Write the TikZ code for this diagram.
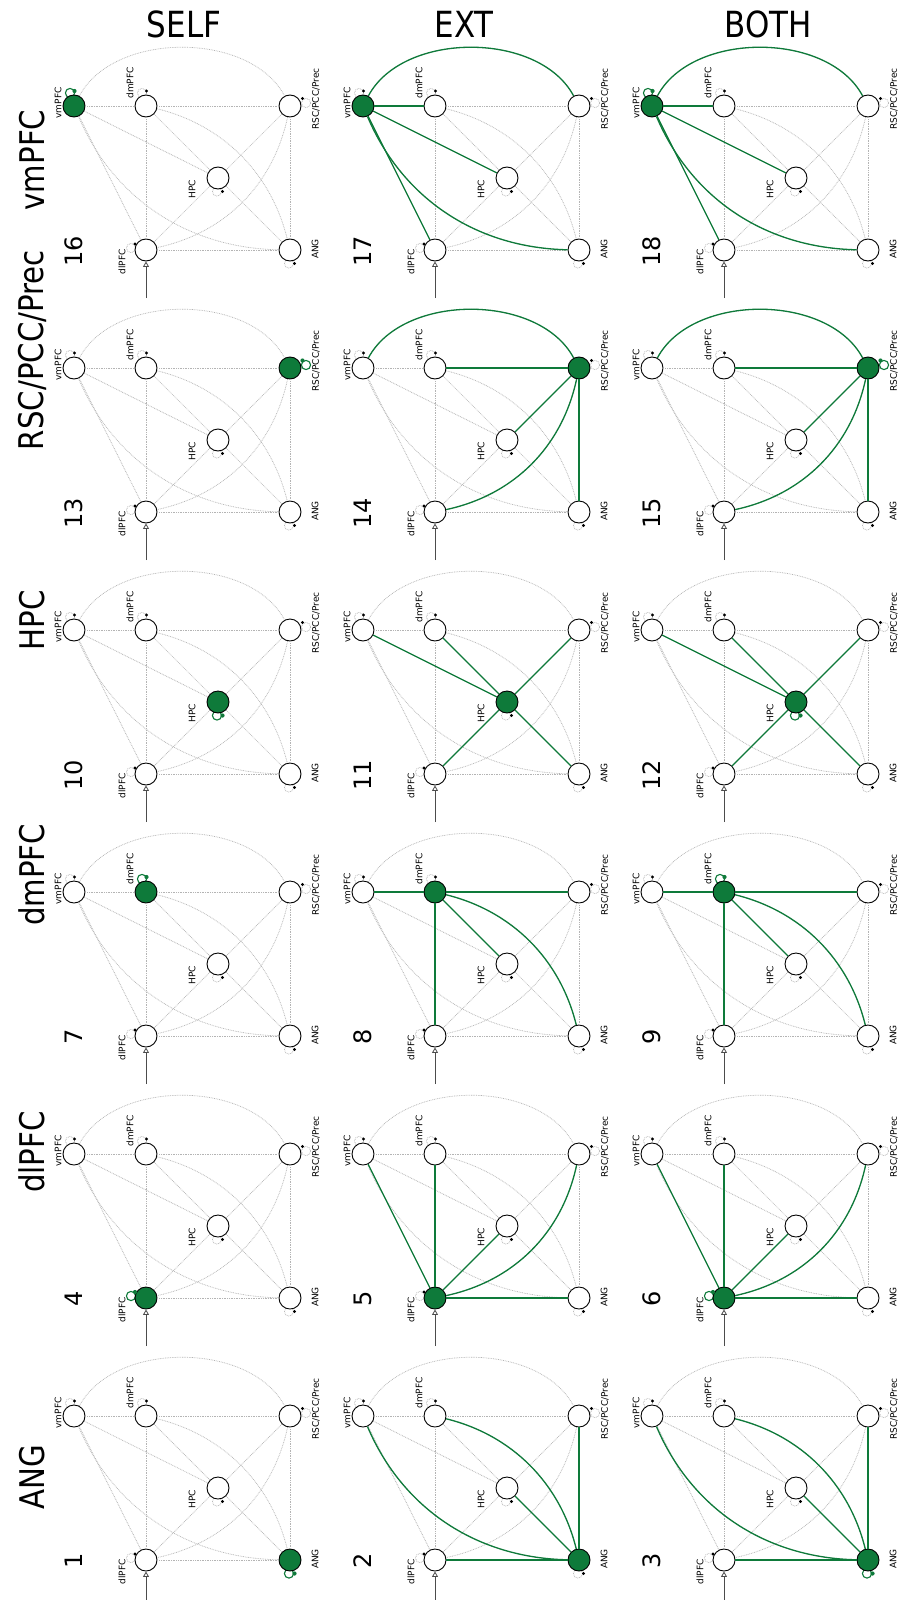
\documentclass[tikz,border=0pt]{standalone}
\usepackage{fontspec}
\setmainfont{DejaVu Sans}
\newfontfamily\condfont[FakeStretch=0.86]{DejaVu Sans}
\usetikzlibrary{arrows.meta}
\definecolor{grn}{RGB}{14,122,58}
\definecolor{eg}{RGB}{180,180,180}
\newcommand\pp{}
\newcommand\eVD[1]{\draw[#1] (\pp V) -- (\pp D);}
\newcommand\eVR[1]{\draw[#1] (\pp V) .. controls +(40,-75) and +(-40,-75) .. (\pp R);}
\newcommand\eVH[1]{\draw[#1] (\pp V) -- (\pp H);}
\newcommand\eVL[1]{\draw[#1] (\pp V) -- (\pp L);}
\newcommand\eVA[1]{\draw[#1] (\pp V) .. controls +(40,94) and +(-101,-2) .. (\pp A);}
\newcommand\eDR[1]{\draw[#1] (\pp D) -- (\pp R);}
\newcommand\eDH[1]{\draw[#1] (\pp D) -- (\pp H);}
\newcommand\eDL[1]{\draw[#1] (\pp D) -- (\pp L);}
\newcommand\eDA[1]{\draw[#1] (\pp D) .. controls +(77,19) and +(-19,-77) .. (\pp A);}
\newcommand\eRH[1]{\draw[#1] (\pp R) -- (\pp H);}
\newcommand\eRL[1]{\draw[#1] (\pp R) .. controls +(-17,79) and +(79,-17) .. (\pp L);}
\newcommand\eRA[1]{\draw[#1] (\pp R) -- (\pp A);}
\newcommand\eHL[1]{\draw[#1] (\pp H) -- (\pp L);}
\newcommand\eHA[1]{\draw[#1] (\pp H) -- (\pp A);}
\newcommand\eLA[1]{\draw[#1] (\pp L) -- (\pp A);}
\newcommand\allV[1]{\eVD{#1}\eVR{#1}\eVH{#1}\eVL{#1}\eVA{#1}}
\newcommand\allD[1]{\eVD{#1}\eDR{#1}\eDH{#1}\eDL{#1}\eDA{#1}}
\newcommand\allR[1]{\eVR{#1}\eDR{#1}\eRH{#1}\eRL{#1}\eRA{#1}}
\newcommand\allH[1]{\eVH{#1}\eDH{#1}\eRH{#1}\eHL{#1}\eHA{#1}}
\newcommand\allL[1]{\eVL{#1}\eDL{#1}\eRL{#1}\eHL{#1}\eLA{#1}}
\newcommand\allA[1]{\eVA{#1}\eDA{#1}\eRA{#1}\eHA{#1}\eLA{#1}}
\newcommand\nodelist{V/0/0/-4/-13/0.5/-15, D/72/0/68/-13/72.5/-15, R/216/0/232/-3/228.5/-7.5, H/144/72/143/85.5/148.5/85.5, L/72/144/57/142/61/138, A/216/144/215/157.5/220.5/157.5}
\begin{document}
\begin{tikzpicture}[x=1pt,y=-1pt,
  nd/.style={circle,draw=black,line width=0.9pt,fill=white,minimum size=22pt,inner sep=0pt},
  ndon/.style={nd,fill=grn},
  ge/.style={draw=eg,line width=0.7pt,dash pattern=on 0.8pt off 0.9pt},
  ae/.style={draw=grn,line width=1.3pt},
  lp/.style={draw=eg,line width=0.7pt,dash pattern=on 0.8pt off 0.9pt},
  lpon/.style={draw=grn,line width=1.1pt},
  lbl/.style={rotate=90,font=\fontsize{9}{9}\selectfont,inner sep=0pt},
  numst/.style={rotate=90,font=\fontsize{24}{24}\selectfont,inner sep=0pt},
  rowt/.style={rotate=90,font=\condfont\fontsize{34}{34}\selectfont,inner sep=0pt},
  colt/.style={font=\condfont\fontsize{36}{36}\selectfont,inner sep=0pt},
  inar/.style={draw=black!70,line width=1pt,-{Triangle[open,length=5.5pt,width=6pt,line width=0.8pt]}}
]
\useasboundingbox (0,0) rectangle (909,1600);
\fill[white] (0,0) rectangle (909,1600);
\foreach \r in {0,...,5}{
 \foreach \c in {0,1,2}{
  \pgfmathtruncatemacro\n{3*\r+\c+1}
  \edef\act{\ifcase\r A\or L\or D\or H\or R\or V\fi}
  \edef\pp{p\n-}
  \begin{scope}[shift={({74+289*\c},{1416-262*\r})}]
   % loops
   \foreach \X/\nx/\ny/\cx/\cy/\dx/\dy in \nodelist {
     \edef\tmp{\X}
     \ifx\tmp\act
       \ifnum\c=1 \draw[lp] (\cx,\cy) circle[radius=4.6pt];
       \else \draw[lpon] (\cx,\cy) circle[radius=4.6pt]; \fi
     \else \draw[lp] (\cx,\cy) circle[radius=4.6pt]; \fi
   }
   % nodes
   \foreach \X/\nx/\ny/\cx/\cy/\dx/\dy in \nodelist {
     \edef\tmp{\X}
     \ifx\tmp\act \node[ndon] (\pp\X) at (\nx,\ny) {};
     \else \node[nd] (\pp\X) at (\nx,\ny) {}; \fi
   }
   % gray edges
   \eVD{ge}\eVR{ge}\eVH{ge}\eVL{ge}\eVA{ge}
   \eDR{ge}\eDH{ge}\eDL{ge}\eDA{ge}
   \eRH{ge}\eRL{ge}\eRA{ge}
   \eHL{ge}\eHA{ge}\eLA{ge}
   % active edges
   \ifnum\c>0 \csname all\act\endcsname{ae}\fi
   % loop dots
   \foreach \X/\nx/\ny/\cx/\cy/\dx/\dy in \nodelist {
     \edef\tmp{\X}
     \ifx\tmp\act
       \ifnum\c=1 \fill[black] (\dx,\dy) circle[radius=1.7pt];
       \else \fill[grn] (\dx,\dy) circle[radius=2.1pt]; \fi
     \else \fill[black] (\dx,\dy) circle[radius=1.7pt]; \fi
   }
   % input arrow
   \coordinate (\pp in) at (72,192);
   \draw[inar] (\pp in) -- (\pp L);
   % labels
   \node[lbl] (\pp lV) at (-16,-3) {vmPFC};
   \node[lbl] (\pp lD) at (56,-23) {dmPFC};
   \node[lbl] (\pp lH) at (118,83) {HPC};
   \node[lbl] (\pp lL) at (48,156) {dlPFC};
   \node[lbl] (\pp lR) at (242,-7) {RSC/PCC/Prec};
   \node[lbl] (\pp lA) at (241,143) {ANG};
   \node[numst] (\pp num) at (0,145) {\n};
  \end{scope}
 }
}
% row titles
\node[rowt] (rA) at (32,1477) {ANG};
\node[rowt] (rL) at (32,1152) {dlPFC};
\node[rowt] (rD) at (32,875) {dmPFC};
\node[rowt] (rH) at (32,620) {HPC};
\node[rowt] (rR) at (32,350) {RSC/PCC/Prec};
\node[rowt] (rV) at (32,160) {vmPFC};
% column titles
\node[colt] (cS) at (184,24) {SELF};
\node[colt] (cE) at (464,24) {EXT};
\node[colt] (cB) at (768,24) {BOTH};
\end{tikzpicture}
\end{document}
